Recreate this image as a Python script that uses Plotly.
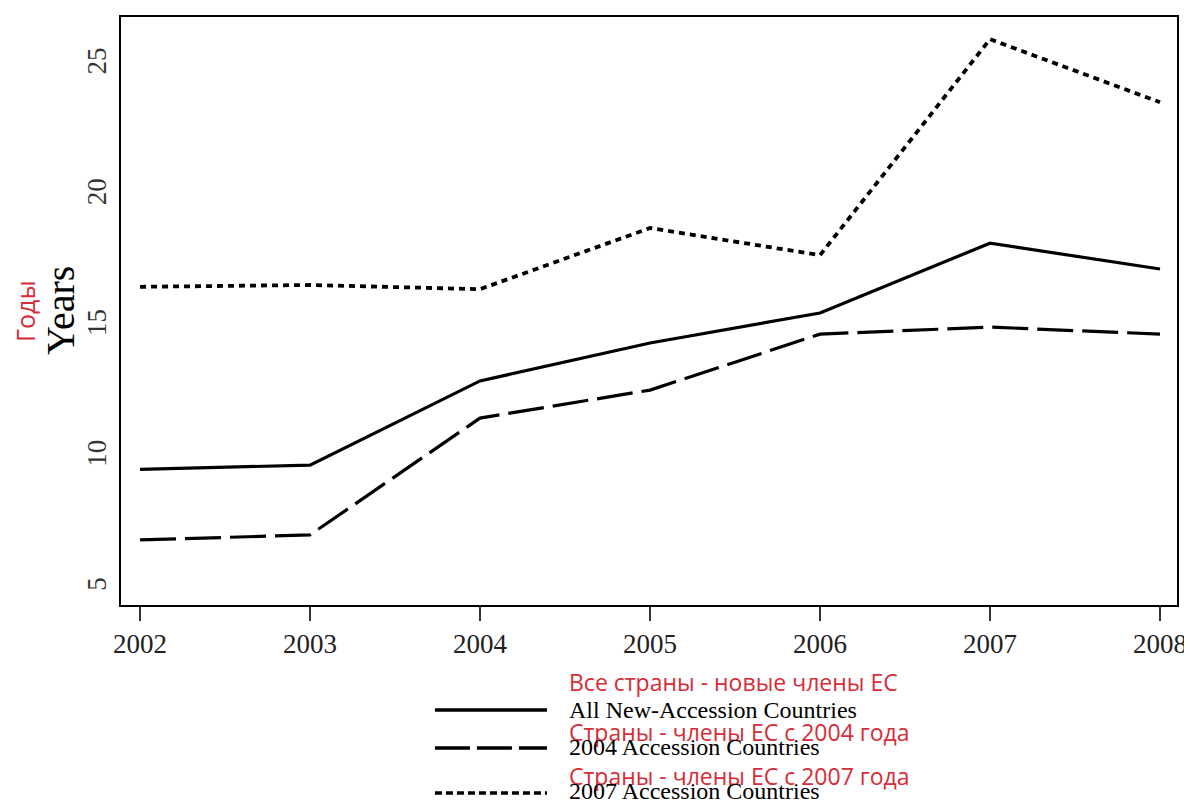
import plotly.graph_objects as go

years = [2002, 2003, 2004, 2005, 2006, 2007, 2008]

all_new = [9.54, 9.70, 12.92, 14.37, 15.52, 18.19, 17.20]
acc_2004 = [6.84, 7.03, 11.50, 12.57, 14.71, 14.98, 14.71]
acc_2007 = [16.52, 16.59, 16.43, 18.77, 17.73, 25.99, 23.58]

y_ticks = [5, 10, 15, 20, 25]

series_en = ["All New-Accession Countries", "2004 Accession Countries", "2007 Accession Countries"]
series_ru = ["Все страны - новые члены ЕС", "Страны - члены ЕС с 2004 года", "Страны - члены ЕС с 2007 года"]

SERIF = "Liberation Serif"
SANS = "Open Sans"
RED = "#d62d38"

styles = [
    dict(color="black", width=3.2, dash="solid"),
    dict(color="black", width=3.2, dash="36px,9px"),
    dict(color="black", width=3.8, dash="6px,5px"),
]
key_dash = ["solid", "35px,7px", "7px,4px"]

fig = go.Figure()
for name, vals, st in zip(series_en, [all_new, acc_2004, acc_2007], styles):
    fig.add_trace(go.Scatter(x=years, y=vals, mode="lines", name=name,
                             line=st, showlegend=False))

# the page body has an 8px margin, so the margins are shifted by that
fig.update_layout(
    width=1192, height=803,
    margin=dict(l=113, r=23, t=9, b=206, autoexpand=False),
    plot_bgcolor="white", paper_bgcolor="white",
    font=dict(family=SERIF, color="#222"),
)
fig.update_xaxes(
    range=[2001.888, 2008.1], tickvals=years, ticks="outside", ticklen=14,
    tickwidth=2, tickcolor="#333", showgrid=False, zeroline=False,
    showline=True, linecolor="black", linewidth=2, mirror=True,
    tickfont=dict(family=SERIF, size=27, color="#222"),
)
fig.update_yaxes(
    range=[4.35, 26.84], tickvals=y_ticks, ticks="", tickangle=-90,
    showgrid=False, zeroline=False, ticklabelstandoff=2,
    showline=True, linecolor="black", linewidth=2, mirror=True,
    tickfont=dict(family=SERIF, size=27, color="#333"),
)

# axis titles
fig.add_annotation(text="Years", xref="paper", yref="paper", x=0, y=0.5,
                   xshift=-61, textangle=-90, showarrow=False,
                   xanchor="center", yanchor="middle",
                   font=dict(family=SERIF, size=40, color="black"))
fig.add_annotation(text="Годы", xref="paper", yref="paper", x=0, y=0.5,
                   xshift=-96, textangle=-90, showarrow=False,
                   xanchor="center", yanchor="middle",
                   font=dict(family=SANS, size=25, color=RED))

# custom legend below the plot
key_y = [-0.1786, -0.2432, -0.3197]
ru_y = [-0.1310, -0.2160, -0.2910]
en_y = [-0.1786, -0.2415, -0.3163]
for i in range(3):
    fig.add_shape(type="line", xref="paper", yref="paper",
                  x0=0.2973, x1=0.4034, y0=key_y[i], y1=key_y[i],
                  line=dict(color="black", width=3.5, dash=key_dash[i]))
    fig.add_annotation(text=series_ru[i], xref="paper", yref="paper",
                       x=0.4223, y=ru_y[i], xanchor="left", yanchor="middle",
                       showarrow=False, font=dict(family=SANS, size=23, color=RED))
    fig.add_annotation(text=series_en[i], xref="paper", yref="paper",
                       x=0.4223, y=en_y[i], xanchor="left", yanchor="middle",
                       showarrow=False, font=dict(family=SERIF, size=24, color="black"))

fig.write_html("out.html")
